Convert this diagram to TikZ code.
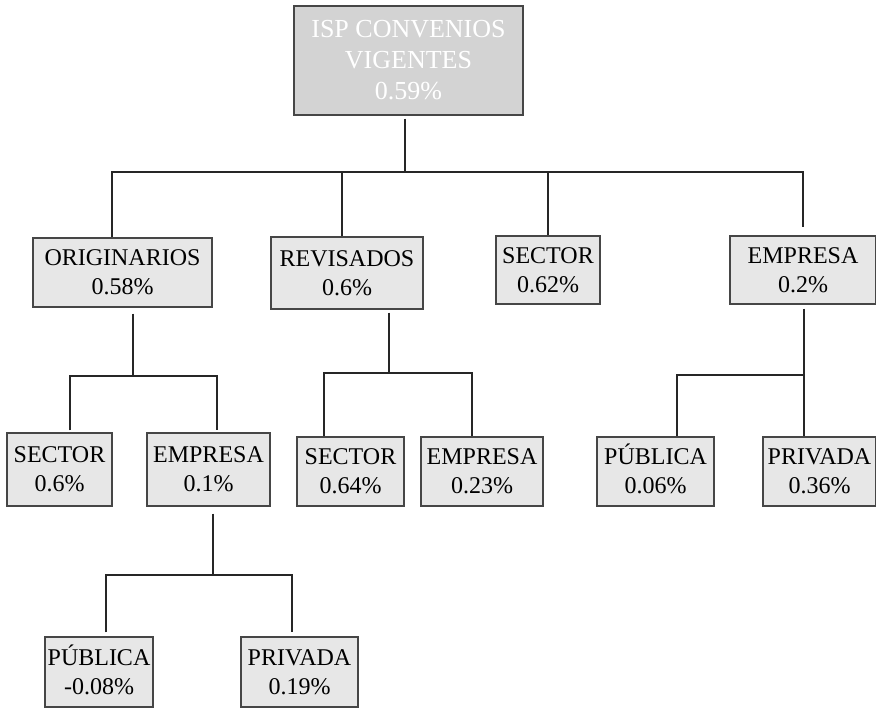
\documentclass[tikz,border=0pt]{standalone}
\usepackage{fontspec}
\setmainfont{Liberation Serif}
\usepackage{tikz}
\usetikzlibrary{calc}
\definecolor{grisCaja}{RGB}{231,231,231}
\definecolor{grisRaiz}{RGB}{211,211,211}
\definecolor{grisBorde}{RGB}{70,70,70}
\tikzstyle{caja} = [draw=grisBorde,fill=grisCaja,line width=1.1pt,align=center,inner sep=0pt,font=\fontsize{24}{29}\selectfont]
\tikzstyle{raiz} = [caja,fill=grisRaiz,text=white,font=\fontsize{26}{31}\selectfont]
\tikzstyle{rama} = [draw=black!85,line width=2.6pt]

\begin{document}
\begin{tikzpicture}[x=1pt,y=-1pt]
\useasboundingbox (0,0) rectangle (876,708);
% cajas
\node[raiz,minimum width=229pt,minimum height=109pt] (isp) at (408.5,60.5) {ISP CONVENIOS\\VIGENTES\\0.59\%};
\node[caja,minimum width=179pt,minimum height=69pt] (orig) at (122.5,272.5) {ORIGINARIOS\\0.58\%};
\node[caja,minimum width=152pt,minimum height=72pt] (rev) at (347,273) {REVISADOS\\0.6\%};
\node[caja,minimum width=104pt,minimum height=68pt] (sec) at (548,270) {SECTOR\\0.62\%};
\node[caja,minimum width=146pt,minimum height=68pt] (emp) at (803,270) {EMPRESA\\0.2\%};
\node[caja,minimum width=105pt,minimum height=73pt] (origSec) at (59.5,469.5) {SECTOR\\0.6\%};
\node[caja,minimum width=123pt,minimum height=73pt] (origEmp) at (208.5,469.5) {EMPRESA\\0.1\%};
\node[caja,minimum width=107pt,minimum height=69pt] (revSec) at (350.5,471.5) {SECTOR\\0.64\%};
\node[caja,minimum width=122pt,minimum height=69pt] (revEmp) at (482,471.5) {EMPRESA\\0.23\%};
\node[caja,minimum width=117pt,minimum height=69pt] (empPub) at (655.5,471.5) {P\smash{Ú}BLICA\\0.06\%};
\node[caja,minimum width=113pt,minimum height=69pt] (empPriv) at (819.5,471.5) {PRIVADA\\0.36\%};
\node[caja,minimum width=108pt,minimum height=70pt] (pub) at (99,672) {P\smash{Ú}BLICA\\-0.08\%};
\node[caja,minimum width=117pt,minimum height=70pt] (priv) at (299.5,672) {PRIVADA\\0.19\%};
% ramas
\coordinate (top) at (405,172);
\draw[rama,shorten <=3pt] (isp.south -| top) -- (top);
\draw[rama] ([xshift=-10.5pt]orig.north) |- (top) -| ([yshift=8pt]emp.north);
\draw[rama] ([xshift=-5pt]rev.north) -- ([xshift=-5pt]rev.north |- top);
\draw[rama] (sec.north) -- (sec.north |- top);
\coordinate (ob) at (133,376);
\draw[rama,shorten <=6pt] (orig.south -| ob) -- (ob);
\draw[rama] ([xshift=10.5pt,yshift=2pt]origSec.north) |- (ob) -| ([xshift=8.5pt,yshift=2pt]origEmp.north);
\coordinate (rb) at (389,373);
\draw[rama,shorten <=3pt] (rev.south -| rb) -- (rb);
\draw[rama] ([xshift=-26.5pt]revSec.north) |- (rb) -| ([xshift=-10pt]revEmp.north);
\coordinate (eb) at (804,375);
\draw[rama,shorten <=4pt] (emp.south -| eb) -- ([xshift=-15.5pt]empPriv.north);
\draw[rama] ([xshift=21.5pt]empPub.north) |- (eb);
\coordinate (pb) at (213,575);
\draw[rama,shorten <=7pt] (origEmp.south -| pb) -- (pb);
\draw[rama] ([xshift=7pt,yshift=4pt]pub.north) |- (pb) -| ([xshift=-7.5pt,yshift=4pt]priv.north);
\end{tikzpicture}
\end{document}
